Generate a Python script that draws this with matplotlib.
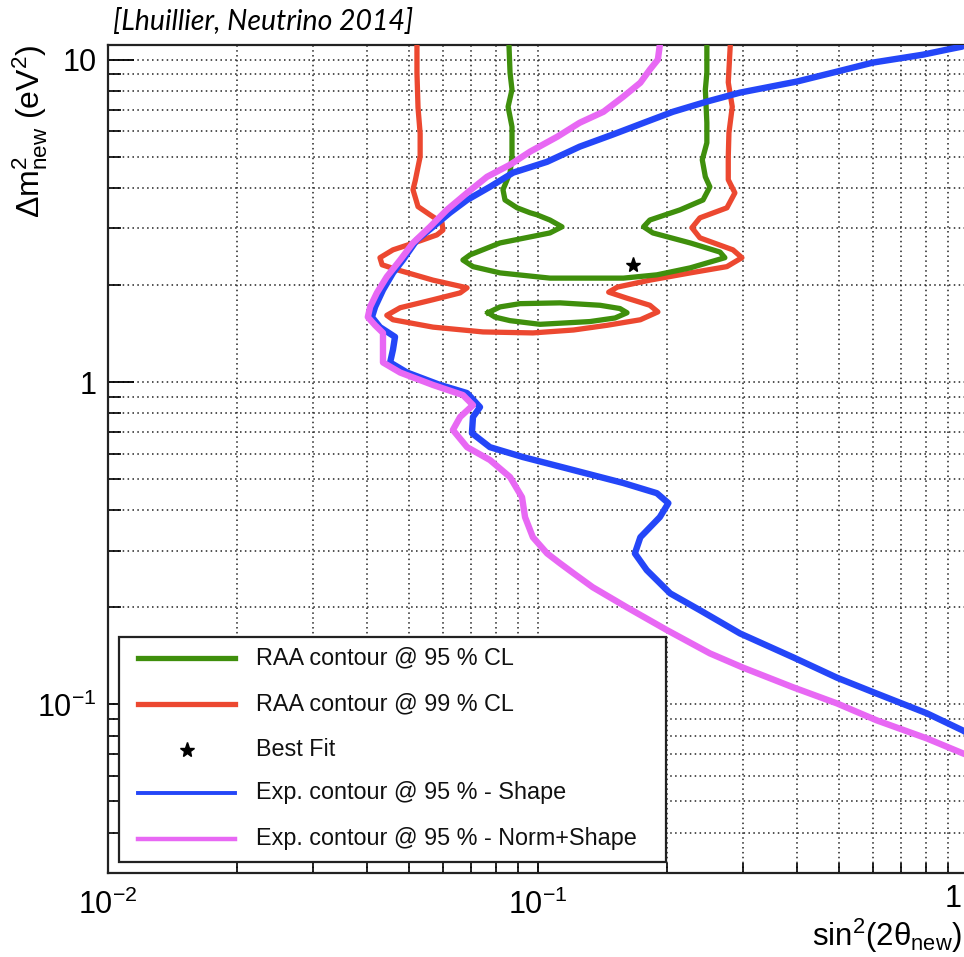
import matplotlib
matplotlib.use("Agg")
import matplotlib.pyplot as plt
from matplotlib.ticker import LogLocator, NullFormatter, FixedLocator, FixedFormatter
from matplotlib.lines import Line2D
from matplotlib.patches import Rectangle

plt.rcParams["font.family"] = ["Liberation Sans", "DejaVu Sans"]
plt.rcParams["mathtext.fontset"] = "custom"
plt.rcParams["mathtext.rm"] = "Liberation Sans"
plt.rcParams["mathtext.it"] = "Liberation Sans:italic"
plt.rcParams["mathtext.bf"] = "Liberation Sans:bold"

# --- RAA contour @ 99 % CL (red) ---
red_x = [0.0523, 0.0523, 0.0526, 0.0532, 0.0532, 0.0518, 0.0512, 0.0526, 0.0561,
         0.0598, 0.0601, 0.0582, 0.0523, 0.0460, 0.0429, 0.0434, 0.0470, 0.0570,
         0.0684, 0.0659, 0.0570, 0.0478, 0.0445, 0.0460, 0.0570, 0.0745, 0.0973,
         0.121, 0.145, 0.173, 0.190, 0.182, 0.161, 0.146, 0.153, 0.182, 0.226,
         0.275, 0.298, 0.284, 0.238, 0.228, 0.238, 0.275, 0.287, 0.277, 0.277,
         0.278, 0.283, 0.277, 0.280]
red_y = [11.1, 9.1, 7.1, 5.9, 5.0, 4.2, 3.95, 3.5, 3.3,
         3.12, 2.96, 2.86, 2.72, 2.57, 2.43, 2.31, 2.23, 2.07,
         1.96, 1.89, 1.80, 1.70, 1.61, 1.56, 1.48, 1.43, 1.42,
         1.45, 1.50, 1.56, 1.65, 1.73, 1.82, 1.90, 1.97, 2.07, 2.18,
         2.28, 2.43, 2.57, 2.80, 3.01, 3.23, 3.47, 3.86, 4.24, 5.0,
         5.93, 7.14, 8.5, 11.1]

# --- RAA contour @ 95 % CL (green), outer part ---
green_x = [0.0856, 0.0861, 0.0870, 0.0852, 0.0870, 0.0870, 0.0861, 0.0829, 0.0838,
           0.0894, 0.0958, 0.0995, 0.1066, 0.1137, 0.1066, 0.0816, 0.0695, 0.0669,
           0.0706, 0.0816, 0.1066, 0.158, 0.189, 0.226, 0.272, 0.265, 0.226,
           0.185, 0.176, 0.182, 0.214, 0.242, 0.251, 0.245, 0.241, 0.247, 0.247,
           0.245, 0.247, 0.247]
green_y = [11.1, 9.1, 8.07, 7.14, 6.19, 5.0, 4.46, 3.95, 3.67,
           3.47, 3.35, 3.30, 3.18, 3.03, 2.90, 2.70, 2.48, 2.39,
           2.28, 2.18, 2.10, 2.10, 2.15, 2.26, 2.43, 2.53, 2.70,
           2.90, 3.03, 3.18, 3.42, 3.67, 4.03, 4.33, 4.89, 5.52, 6.37,
           8.07, 9.1, 11.1]

# --- RAA contour @ 95 % CL (green), inner island ---
green_in_x = [0.0765, 0.0816, 0.0908, 0.1125, 0.1394, 0.1551, 0.1611, 0.1511,
              0.1321, 0.1011, 0.0861, 0.0794, 0.0765]
green_in_y = [1.64, 1.71, 1.75, 1.76, 1.73, 1.69, 1.64, 1.58,
              1.54, 1.51, 1.55, 1.59, 1.64]

# --- Exp. contour @ 95 % - Shape (blue) ---
shape_x = [1.0, 0.968, 0.894, 0.786, 0.601, 0.496, 0.400, 0.295, 0.247, 0.206,
           0.179, 0.149, 0.125, 0.105, 0.0875, 0.0773, 0.0684, 0.0624, 0.0570,
           0.0523, 0.0485, 0.0460, 0.0436, 0.0418, 0.0411, 0.0429, 0.0465,
           0.0460, 0.0453, 0.0496, 0.0592, 0.0684, 0.0733, 0.0706, 0.0702,
           0.0773, 0.0923, 0.121, 0.158, 0.189, 0.201, 0.192, 0.173, 0.168,
           0.179, 0.203, 0.238, 0.295, 0.392, 0.496, 0.614, 0.803, 0.973, 1.0]
shape_y = [11.3, 10.97, 10.74, 10.36, 9.79, 9.18, 8.55, 7.90, 7.41, 6.89,
           6.42, 5.85, 5.37, 4.82, 4.46, 4.03, 3.67, 3.35, 3.03,
           2.76, 2.39, 2.18, 1.93, 1.71, 1.59, 1.48, 1.38,
           1.26, 1.15, 1.07, 0.979, 0.924, 0.836, 0.779, 0.694,
           0.628, 0.585, 0.533, 0.486, 0.452, 0.421, 0.381, 0.330, 0.294,
           0.261, 0.221, 0.196, 0.166, 0.140, 0.121, 0.108, 0.0938, 0.0830, 0.0812]

# --- Exp. contour @ 95 % - Norm+Shape (magenta) ---
norm_x = [0.192, 0.190, 0.182, 0.173, 0.158, 0.142, 0.125, 0.111, 0.0958, 0.0861,
          0.0761, 0.0684, 0.0614, 0.0561, 0.0512, 0.0478, 0.0445, 0.0422, 0.0407,
          0.0402, 0.0418, 0.0436, 0.0436, 0.0436, 0.0478, 0.0570, 0.0669, 0.0706,
          0.0659, 0.0634, 0.0684, 0.0773, 0.0861, 0.0918, 0.0933, 0.0973, 0.105,
          0.1125, 0.121, 0.134, 0.161, 0.1995, 0.251, 0.300, 0.392, 0.496, 0.614,
          0.803, 0.973, 1.0]
norm_y = [11.1, 10.0, 9.31, 8.48, 7.68, 6.89, 6.37, 5.77, 5.18, 4.72,
          4.33, 3.86, 3.42, 3.03, 2.70, 2.39, 2.12, 1.89, 1.71,
          1.59, 1.50, 1.42, 1.26, 1.15, 1.07, 0.979, 0.911, 0.848,
          0.779, 0.710, 0.628, 0.573, 0.507, 0.439, 0.381, 0.330, 0.294,
          0.274, 0.255, 0.231, 0.200, 0.170, 0.144, 0.130, 0.113, 0.1007, 0.0892,
          0.0784, 0.0705, 0.0695]

best_fit_x = [0.166]
best_fit_y = [2.31]

labels = ["RAA contour @ 95 % CL", "RAA contour @ 99 % CL", "Best Fit",
          "Exp. contour @ 95 % - Shape", "Exp. contour @ 95 % - Norm+Shape"]

c_green = "#3f8f0c"
c_red = "#ec4830"
c_blue = "#2446f8"
c_magenta = "#e868f4"

W, H = 964, 957
fig = plt.figure(figsize=(W / 100, H / 100), dpi=100)


def fx(px):
    return px / W


def fy(py):
    return 1 - py / H


ax = fig.add_axes([fx(108), fy(873), fx(968) - fx(108), fy(45) - fy(873)])
ax.set_xscale("log")
ax.set_yscale("log")
ax.set_xlim(0.01, 1)
ax.set_ylim(0.03, 11.1)

# grid
ax.xaxis.set_minor_locator(LogLocator(base=10, subs=range(2, 10)))
ax.yaxis.set_minor_locator(LogLocator(base=10, subs=range(2, 10)))
ax.xaxis.set_minor_formatter(NullFormatter())
ax.yaxis.set_minor_formatter(NullFormatter())
ax.grid(True, which="both", color="#222222", lw=1.1, ls=(0, (1, 2.2)), zorder=0)
ax.set_axisbelow(True)

# the "1" label of x sits at the figure edge, it is drawn below inside the figure
ax.xaxis.set_major_locator(FixedLocator([0.01, 0.1, 1]))
ax.xaxis.set_major_formatter(FixedFormatter([r"$10^{-2}$", r"$10^{-1}$", ""]))
ax.yaxis.set_major_locator(FixedLocator([0.1, 1, 10]))
ax.yaxis.set_major_formatter(FixedFormatter([r"$10^{-1}$", "1", "10"]))

ax.tick_params(axis="y", which="major", direction="in", length=19, width=1.3,
               labelsize=22, pad=8)
ax.tick_params(axis="y", which="minor", direction="in", length=9, width=1.2)
ax.tick_params(axis="x", which="major", direction="in", length=15, width=1.3,
               labelsize=22, pad=12)
ax.tick_params(axis="x", which="minor", direction="in", length=7.5, width=1.2)
for s in ax.spines.values():
    s.set_linewidth(1.6)
    s.set_color("#222222")

fig.text(fx(962), fy(884), "1", fontsize=22, ha="right", va="top")

# curves
ax.plot(red_x, red_y, color=c_red, lw=3.8, zorder=3)
ax.plot(green_x, green_y, color=c_green, lw=3.8, zorder=4)
ax.plot(green_in_x, green_in_y, color=c_green, lw=3.8, zorder=4)
ax.plot(shape_x, shape_y, color=c_blue, lw=4.6, zorder=5)
ax.plot(norm_x, norm_y, color=c_magenta, lw=4.6, zorder=6)
ax.plot(best_fit_x, best_fit_y, marker="*", color="black", ms=11, ls="none", zorder=7)

# legend box
fig.add_artist(Rectangle((fx(119), fy(862)), fx(666) - fx(119), fy(637) - fy(862),
                         transform=fig.transFigure, facecolor="white",
                         edgecolor="#222222", lw=1.6, zorder=10))
rows = [658, 704, 750, 793, 839]
styles = [(c_green, 3.8), (c_red, 3.8), None, (c_blue, 2.8), (c_magenta, 3.2)]
for py, lab, st in zip(rows, labels, styles):
    if st is None:
        fig.add_artist(Line2D([fx(187)], [fy(py)], marker="*", color="black", ms=11,
                              ls="none", transform=fig.transFigure, zorder=11))
    else:
        fig.add_artist(Line2D([fx(138), fx(235)], [fy(py), fy(py)], color=st[0],
                              lw=st[1], transform=fig.transFigure, zorder=11))
    fig.text(fx(256), fy(py), lab, fontsize=16.8, ha="left", va="center",
             color="#111111", zorder=12)

# axis titles
fig.text(fx(30), fy(45), r"Δm$^{2}_{\rm new}$ (eV$^{2}$)", rotation=90, fontsize=23,
         ha="center", va="top")
fig.text(fx(962), fy(946), r"sin$^{2}$(2θ$_{\rm new}$)", fontsize=22.5,
         ha="right", va="baseline")

fig.text(fx(113), fy(21), "[Lhuillier, Neutrino 2014]", fontsize=20.5,
         family=["Lato", "DejaVu Sans"], style="italic", ha="left", va="center")

fig.savefig("out.png", dpi=100)
